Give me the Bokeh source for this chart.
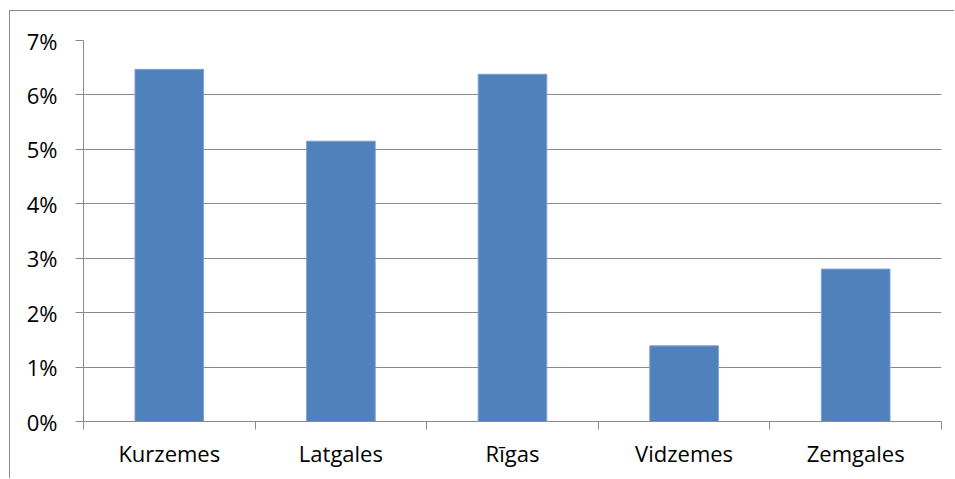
from bokeh.plotting import figure
from bokeh.models import FixedTicker, Range1d, PrintfTickFormatter
from bokeh.embed import file_html
from bokeh.resources import INLINE

# Regional shares, percent
regions = ["Kurzemes", "Latgales", "Rīgas", "Vidzemes", "Zemgales"]
shares = [6.47, 5.15, 6.38, 1.39, 2.80]
y_ticks = [0, 1, 2, 3, 4, 5, 6, 7]

FONT = "Open Sans"
FONT_SIZE = "22px"
GRID = "#8a8a8a"
BAR = "#4F81BD"

n = len(regions)
centers = [i + 0.5 for i in range(n)]

# The figure sits 9px in from the left and 10px down, with a thin
# border on its left and top edges framing the chart area.
p = figure(width=945, height=468, output_backend="svg", toolbar_location=None,
           x_range=Range1d(0, n), y_range=Range1d(0, 7),
           min_border_left=73, min_border_right=14,
           min_border_top=29, min_border_bottom=58)
p.styles = {"margin-left": "9px", "margin-top": "10px",
            "border-left": f"1px solid {GRID}", "border-top": f"1px solid {GRID}"}
p.outline_line_color = None
p.background_fill_color = "white"
p.border_fill_color = "white"

p.vbar(x=centers, top=shares, width=0.4, bottom=0,
       fill_color=BAR, line_color="#7fa2cf", line_width=1)

# y axis
ya = p.yaxis[0]
ya.ticker = FixedTicker(ticks=y_ticks)
ya.formatter = PrintfTickFormatter(format="%d%%")
ya.axis_line_color = GRID
ya.major_tick_line_color = GRID
ya.major_tick_out = 8
ya.major_tick_in = 0
ya.minor_tick_line_color = None
ya.major_label_text_font = FONT
ya.major_label_text_font_size = FONT_SIZE
ya.major_label_text_color = "black"
ya.major_label_standoff = 18

# x axis: labels at category centres, tick marks at boundaries
xa = p.xaxis[0]
xa.ticker = FixedTicker(ticks=centers, minor_ticks=list(range(n + 1)))
xa.major_label_overrides = {c: r for c, r in zip(centers, regions)}
xa.axis_line_color = GRID
xa.major_tick_line_color = None
xa.minor_tick_line_color = GRID
xa.minor_tick_out = 8
xa.minor_tick_in = 0
xa.major_label_text_font = FONT
xa.major_label_text_font_size = FONT_SIZE
xa.major_label_text_color = "black"
xa.major_label_standoff = 8

p.xgrid.visible = False
p.ygrid.ticker = FixedTicker(ticks=y_ticks)
p.ygrid.grid_line_color = GRID
p.ygrid.grid_line_width = 1

open("out.html", "w").write(file_html(p, INLINE))
